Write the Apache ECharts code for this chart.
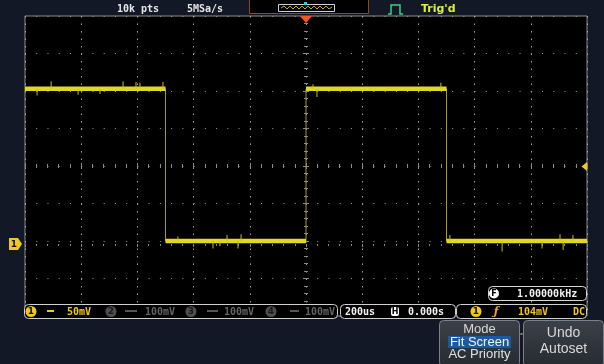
<!DOCTYPE html>
<html>
<head>
<meta charset="utf-8">
<script src="https://cdn.jsdelivr.net/npm/echarts@6/dist/echarts.min.js"></script>
<style>
  html, body { margin: 0; padding: 0; background: #131826; }
  #scope { width: 604px; height: 364px; }
</style>
</head>
<body>
<div id="scope"></div>
<script>
// CH1 trace, time in us (200us/div), voltage in mV (50mV/div)
const traceTime = [-1000, -500, -500, 0, 0, 500, 500, 1000];
const traceVolt = [207, 207, 4, 4, 207, 207, 4, 4];

// noise spikes (time, tip of the spike)
const spikeTime = [-957, -907, -811, -733, -651, -605, -591, -509,
                   -456, -331, -306, -281, -242, -231,
                   25, 39, 480,
                   512, 698, 840, 904, 915, 950];
const spikePeak = [198, 217, 199, 200, 217, 216, 215, 216,
                   10, -6, -3, 12, -6, 13,
                   213, 196, 215,
                   12, -10, -6, 13, -8, 12];

const timeMin = -1000, timeMax = 1000, timeDiv = 200;
const voltMin = -96, voltMax = 304, voltDiv = 50;

const topTexts = ['10k pts', '5MSa/s'];
const chLabels = ['1', '2', '3', '4'];
const chScales = ['50mV', '100mV', '100mV', '100mV'];
const timebase = '200us';
const hPosition = '0.000s';
const trigLevel = '104mV';
const trigCoupling = 'DC';
const frequency = '1.00000kHz';

const YEL = '#f0c81e';
const MONO = 'bold 10px "DejaVu Sans Mono"';

function levelAt(t) {
  for (let i = 0; i < traceTime.length - 1; i++) {
    if (t >= traceTime[i] && t <= traceTime[i + 1] && traceVolt[i] === traceVolt[i + 1]) return traceVolt[i];
  }
  return traceVolt[traceVolt.length - 1];
}

// thin full trace (edges), thick flat parts, spikes
const edgeData = traceTime.map((t, i) => [t, traceVolt[i]]);
const flatData = [];
for (let i = 0; i < traceTime.length - 1; i++) {
  if (traceVolt[i] === traceVolt[i + 1]) {
    flatData.push([traceTime[i], traceVolt[i]], [traceTime[i + 1], traceVolt[i + 1]], [traceTime[i + 1], null]);
  }
}
const spikeData = [];
spikeTime.forEach((t, i) => {
  spikeData.push([t, levelAt(t)], [t, spikePeak[i]], [t, null]);
});

function txt(text, x, y, fill, font, align) {
  return {
    type: 'text', z: 100, silent: true,
    style: { text: text, x: x, y: y, fill: fill, font: font || MONO,
      textAlign: align || 'left', align: align || 'left',
      textVerticalAlign: 'middle', verticalAlign: 'middle' }
  };
}
function box(x, y, w, h, stroke, fill, r) {
  return { type: 'rect', z: 90, silent: true, shape: { x: x, y: y, width: w, height: h, r: r || 0 },
    style: { stroke: stroke, fill: fill, lineWidth: 1 } };
}
function badge(cx, cy, label, fill, color) {
  return [
    { type: 'circle', z: 95, silent: true, shape: { cx: cx, cy: cy, r: 5.5 }, style: { fill: fill } },
    txt(label, cx, cy + 0.5, color, 'bold 9px "DejaVu Sans"', 'center')
  ];
}

const graphics = [];
// top status bar
graphics.push(txt(topTexts[0], 117, 9, '#e6e6e6'));
graphics.push(txt(topTexts[1], 187, 9, '#e6e6e6'));
graphics.push(box(249.5, -1.5, 119, 15, '#8a4b1c', '#000'));
graphics.push(box(278.5, 4.5, 56, 7, '#cfcfcf', '#000'));
graphics.push({ type: 'polyline', z: 95, silent: true,
  shape: { points: [[281,8],[284,6],[287,9],[290,6],[293,9],[296,6],[299,9],[302,6],[305,9],[308,6],[311,9],[314,6],[317,9],[320,6],[323,9],[326,6],[329,9],[332,7]] },
  style: { stroke: '#c9b020', lineWidth: 1, fill: null } });
graphics.push(box(304, 2, 3, 3, null, '#22d0e0'));
graphics.push({ type: 'polygon', z: 95, silent: true, shape: { points: [[300, 16], [312, 16], [306, 23]] }, style: { fill: '#ff5520' } });
graphics.push({ type: 'polyline', z: 95, silent: true,
  shape: { points: [[388, 14], [391, 14], [391, 5], [400, 5], [400, 14], [403, 14]] },
  style: { stroke: '#3ad08a', lineWidth: 1.5, fill: null } });
graphics.push(txt("Trig'd", 421, 9, '#d9f03c', 'bold 11px "DejaVu Sans"'));

// ground marker and trigger level arrow
graphics.push({ type: 'polygon', z: 95, silent: true, shape: { points: [[9, 238], [18, 238], [22, 244], [18, 250], [9, 250]] }, style: { fill: YEL } });
graphics.push(txt('1', 14, 244.5, '#111', 'bold 9px "DejaVu Sans"', 'center'));
graphics.push({ type: 'polygon', z: 95, silent: true, shape: { points: [[581.5, 166.5], [587, 162], [587, 171]] }, style: { fill: YEL } });

// frequency counter
graphics.push(box(488.5, 286.5, 98, 14, '#d8d8d8', '#000', 4));
graphics.push({ type: 'circle', z: 95, silent: true, shape: { cx: 494, cy: 293.5, r: 5 }, style: { fill: '#fff' } });
graphics.push(txt('F', 494, 294, '#000', 'bold 8px "DejaVu Sans"', 'center'));
graphics.push(txt(frequency, 517, 294, '#f0f0f0'));

// channel bar
graphics.push(box(24.5, 304.5, 313, 14, '#d0d0d0', '#000', 4));
const chX = [31, 111, 191, 271];
const dcX = [[47, 7], [125, 12], [207, 11], [290, 9]];
const scaleX = [67, 145, 224, 305];
chLabels.forEach((c, i) => {
  const on = i === 0;
  graphics.push(...badge(chX[i], 311.5, c, on ? YEL : '#4e4e4e', on ? '#111' : '#1a1a1a'));
  graphics.push(box(dcX[i][0], 310, dcX[i][1], 2, null, on ? YEL : '#555'));
  graphics.push(txt(chScales[i], scaleX[i], 312, on ? YEL : '#646464'));
});

// timebase box
graphics.push(box(340.5, 304.5, 115, 14, '#d0d0d0', '#000', 4));
graphics.push(txt(timebase, 345, 312, '#f0f0f0'));
graphics.push(box(391, 307, 8, 9, null, '#fff', 2));
graphics.push(txt('H', 395, 312, '#000', 'bold 8px "DejaVu Sans"', 'center'));
graphics.push(txt(hPosition, 408, 312, '#f0f0f0'));

// trigger box
graphics.push(box(456.5, 304.5, 130, 14, '#d0d0d0', '#000', 4));
graphics.push(...badge(476, 311.5, '1', YEL, '#111'));
graphics.push(txt('ƒ', 496, 312, '#f0a820', 'italic bold 11px "DejaVu Serif"', 'center'));
graphics.push(txt(trigLevel, 518, 312, YEL));
graphics.push(txt(trigCoupling, 573, 312, YEL));

// soft-menu buttons
const btnFill = { type: 'linear', x: 0, y: 0, x2: 0, y2: 1,
  colorStops: [{ offset: 0, color: '#3c4048' }, { offset: 1, color: '#262a31' }] };
graphics.push(box(439.5, 320.5, 80, 46, '#7c8088', btnFill, 4));
graphics.push(box(523.5, 320.5, 80, 46, '#7c8088', btnFill, 4));
graphics.push(box(448, 336, 63, 12, null, '#1c5a9e'));
graphics.push(box(520.5, 333, 2, 2, null, '#888'));
const BTN = '13px "Liberation Sans"';
graphics.push(txt('Mode', 479.5, 329, '#d8d8d8', BTN, 'center'));
graphics.push(txt('Fit Screen', 479.5, 342, '#f2f2f2', BTN, 'center'));
graphics.push(txt('AC Priority', 479.5, 354, '#e0e0e0', BTN, 'center'));
graphics.push(txt('Undo', 563.5, 333, '#d8d8d8', '14px "Liberation Sans"', 'center'));
graphics.push(txt('Autoset', 563.5, 349.5, '#d8d8d8', '14px "Liberation Sans"', 'center'));

const GRIDC = '#8a8a8a';
// plain axes carrying only the dotted graticule
const xGrid = { type: 'value', min: timeMin, max: timeMax, interval: timeDiv,
  axisLine: { show: false }, axisLabel: { show: false }, axisTick: { show: false },
  splitLine: { show: true, lineStyle: { color: '#a8a8a8', width: 1, type: [1.5, 6] } } };
const yGrid = { type: 'value', min: voltMin, max: voltMax, interval: voltDiv,
  axisLine: { show: false }, axisLabel: { show: false }, axisTick: { show: false },
  splitLine: { show: true, lineStyle: { color: '#9c9c9c', width: 1, type: [1, 10.24] } } };
// tick-only axes on the border and the centre cross
function xAx(position, offset, inside) {
  return {
    type: 'value', min: timeMin, max: timeMax, interval: timeDiv, position: position, offset: offset,
    axisLine: { show: false }, axisLabel: { show: false }, splitLine: { show: false },
    axisTick: { show: true, inside: inside, length: 3, lineStyle: { color: GRIDC } },
    minorTick: { show: true, splitNumber: 5, length: 2, lineStyle: { color: GRIDC } }
  };
}
function yAx(position, offset, inside) {
  return {
    type: 'value', min: voltMin, max: voltMax, interval: voltDiv, position: position, offset: offset,
    axisLine: { show: false }, axisLabel: { show: false }, splitLine: { show: false },
    axisTick: { show: true, inside: inside, length: 3, lineStyle: { color: GRIDC } },
    minorTick: { show: true, splitNumber: 5, length: 2, lineStyle: { color: GRIDC } }
  };
}

const chart = echarts.init(document.getElementById('scope'));
chart.setOption({
  backgroundColor: '#131826',
  animation: false,
  grid: { left: 25, top: 16, width: 562, height: 300, show: true,
    backgroundColor: '#000', borderColor: '#8c8c8c', borderWidth: 1 },
  xAxis: [
    xGrid,
    xAx('top', 0, true),
    xAx('top', -150, false),
    xAx('top', -150, true)
  ],
  yAxis: [
    yGrid,
    yAx('left', 0, true),
    yAx('right', 0, true),
    yAx('left', -281, false),
    yAx('left', -281, true)
  ],
  series: [
    { type: 'line', data: edgeData, symbol: 'none', silent: true,
      lineStyle: { color: '#a39c1a', width: 1 } },
    { type: 'line', data: flatData, symbol: 'none', silent: true, connectNulls: false,
      lineStyle: { color: '#e0d822', width: 4.5 } },
    { type: 'line', data: spikeData, symbol: 'none', silent: true, connectNulls: false,
      lineStyle: { color: '#c8c01c', width: 1 } }
  ],
  graphic: graphics
});
</script>
</body>
</html>
